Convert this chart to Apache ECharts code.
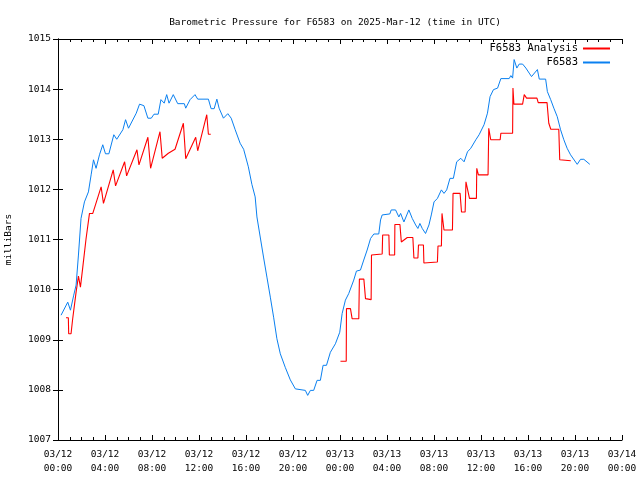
<!DOCTYPE html>
<html><head><meta charset="utf-8">
<script src="https://cdn.jsdelivr.net/npm/echarts@6/dist/echarts.min.js"></script>
<style>html,body{margin:0;padding:0;background:#fff}#c{width:640px;height:480px}</style>
</head><body><div id="c"></div>
<script>
// hours since 2025-03-12 00:00 UTC
const blueHours = [0.26,0.83,1.06,1.34,1.54,1.74,1.96,2.25,2.59,2.82,3.02,3.24,3.53,3.81,4.04,4.33,4.75,5.0,5.52,5.75,6.0,6.66,6.94,7.31,7.65,7.94,8.17,8.53,8.76,9.04,9.25,9.45,9.81,10.19,10.75,10.87,11.24,11.66,11.89,12.8,13.03,13.29,13.52,13.71,14.08,14.45,14.74,15.08,15.5,15.8,16.2,16.5,16.78,16.93,17.21,17.49,17.78,18.07,18.35,18.63,18.92,19.34,19.77,20.2,20.34,21.05,21.25,21.48,21.76,22.05,22.33,22.56,22.85,23.18,23.61,23.98,24.18,24.46,24.74,25.17,25.4,25.74,26.02,26.31,26.6,26.88,27.3,27.45,27.59,28.24,28.36,28.73,29.01,29.16,29.44,29.86,30.15,30.44,30.63,30.8,31.0,31.28,31.57,31.77,32.0,32.29,32.63,32.85,33.08,33.36,33.65,33.93,34.28,34.56,34.85,35.13,35.56,35.84,36.26,36.55,36.77,37.06,37.41,37.69,38.4,38.54,38.69,38.82,39.05,39.25,39.54,39.82,40.1,40.3,40.8,40.96,41.5,41.65,41.93,42.2,42.49,42.77,43.05,43.33,43.62,44.19,44.47,44.75,45.26];
const blueValues = [1009.49,1009.75,1009.59,1009.89,1010.09,1010.69,1011.42,1011.75,1011.95,1012.29,1012.59,1012.42,1012.69,1012.89,1012.71,1012.71,1013.09,1013.0,1013.19,1013.39,1013.22,1013.52,1013.70,1013.67,1013.42,1013.42,1013.5,1013.5,1013.79,1013.72,1013.89,1013.72,1013.89,1013.71,1013.71,1013.62,1013.79,1013.89,1013.8,1013.8,1013.61,1013.61,1013.8,1013.62,1013.42,1013.51,1013.42,1013.19,1012.92,1012.8,1012.45,1012.1,1011.85,1011.45,1011.05,1010.65,1010.25,1009.85,1009.45,1009.02,1008.72,1008.45,1008.2,1008.02,1007.99,1007.99,1007.89,1007.99,1007.99,1008.19,1008.19,1008.49,1008.49,1008.75,1008.92,1009.15,1009.52,1009.79,1009.92,1010.19,1010.37,1010.39,1010.59,1010.79,1011.02,1011.11,1011.11,1011.39,1011.49,1011.51,1011.59,1011.59,1011.45,1011.52,1011.35,1011.59,1011.42,1011.29,1011.22,1011.32,1011.22,1011.12,1011.29,1011.49,1011.75,1011.82,1011.99,1011.92,1011.99,1012.22,1012.22,1012.55,1012.62,1012.55,1012.75,1012.82,1012.99,1013.09,1013.29,1013.52,1013.85,1013.99,1014.02,1014.21,1014.21,1014.27,1014.22,1014.59,1014.42,1014.5,1014.5,1014.42,1014.32,1014.25,1014.39,1014.2,1014.2,1013.95,1013.79,1013.62,1013.45,1013.19,1012.99,1012.82,1012.69,1012.5,1012.6,1012.6,1012.5];

const redHours1 = [0.68,0.88,0.91,1.11,1.25,1.54,1.74,1.91,2.11,2.39,2.68,2.96,3.67,3.87,4.7,4.9,5.67,5.84,6.72,6.89,7.65,7.88,8.68,8.87,9.39,9.96,10.67,10.87,11.72,11.89,12.66,12.8,13.0];
const redValues1 = [1009.44,1009.44,1009.12,1009.12,1009.42,1009.95,1010.27,1010.05,1010.45,1011.02,1011.52,1011.52,1012.05,1011.72,1012.39,1012.07,1012.55,1012.27,1012.79,1012.49,1013.04,1012.42,1013.15,1012.62,1012.72,1012.8,1013.32,1012.61,1013.04,1012.77,1013.49,1013.1,1013.1];
const redHours2 = [24.04,24.53,24.55,24.89,25.03,25.6,25.65,26.03,26.17,26.65,26.68,27.59,27.63,28.16,28.2,28.65,28.67,29.1,29.22,29.5,29.73,30.2,30.29,30.63,30.68,31.1,31.14,32.29,32.34,32.63,32.68,32.85,33.57,33.62,34.22,34.34,34.65,34.72,34.85,35.02,35.61,35.64,35.78,36.6,36.66,36.83,37.63,37.69,38.69,38.72,38.8,39.54,39.68,39.88,40.76,40.87,41.62,41.77,41.94,42.62,42.7,43.64];
const redValues2 = [1008.57,1008.57,1009.62,1009.62,1009.42,1009.42,1010.21,1010.21,1009.82,1009.8,1010.69,1010.71,1011.09,1011.09,1010.69,1010.69,1011.3,1011.3,1010.95,1011.0,1011.04,1011.04,1010.63,1010.63,1010.89,1010.89,1010.53,1010.55,1010.87,1010.87,1011.52,1011.19,1011.19,1011.92,1011.92,1011.55,1011.55,1012.15,1012.15,1011.82,1011.82,1012.42,1012.29,1012.29,1013.22,1012.99,1012.99,1013.12,1013.12,1014.02,1013.7,1013.7,1013.89,1013.82,1013.82,1013.73,1013.73,1013.32,1013.2,1013.2,1012.59,1012.57];

const titleText = 'Barometric Pressure for F6583 on 2025-Mar-12 (time in UTC)';
const dayLabels = ['03/12','03/13','03/14'];

const zip = (a,b) => a.map((v,i)=>[v,b[i]]);
const redData = zip(redHours1, redValues1).concat([[18,'-']]).concat(zip(redHours2, redValues2));
const blueData = zip(blueHours, blueValues);

const FONT = 'DejaVu Sans Mono';
const txt = {fontFamily: FONT, fontSize: 9.5, color: '#000'};
function xLabel(v){
  const d = Math.floor(v/24), h = v - d*24;
  return dayLabels[d] + '\n' + String(h).padStart(2,'0') + ':00';
}
const axLine = {show:true, lineStyle:{color:'#000', width:1}};
const xBase = {type:'value', min:0, max:48, interval:4, axisLine:axLine,
  axisTick:{show:true, inside:true, length:5, lineStyle:{color:'#000'}},
  minorTick:{show:true, splitNumber:4, length:3, lineStyle:{color:'#000'}},
  splitLine:{show:false}};
const yBase = {type:'value', min:1007, max:1015, interval:1, axisLine:axLine,
  axisTick:{show:true, inside:true, length:5, lineStyle:{color:'#000'}},
  splitLine:{show:false}};

const chart = echarts.init(document.getElementById('c'), null, {renderer:'canvas'});
chart.setOption({
  animation:false,
  backgroundColor:'#fff',
  title:{text:titleText, left:330, textAlign:'center', top:13, textStyle:Object.assign({fontWeight:'normal'}, txt)},
  grid:{left:58, right:18, top:39, bottom:40, containLabel:false, outerBoundsMode:'none'},
  legend:[
    {data:['F6583 Analysis'], right:30, top:43, align:'right', itemWidth:27, itemHeight:2, icon:'rect', itemGap:6, textStyle:Object.assign({}, txt, {fontSize:10.5}), padding:0},
    {data:['F6583'], right:30, top:57, align:'right', itemWidth:27, itemHeight:2, icon:'rect', itemGap:6, textStyle:Object.assign({}, txt, {fontSize:10.5}), padding:0}
  ],
  xAxis:[
    Object.assign({position:'bottom', axisLabel:Object.assign({formatter:xLabel, margin:8, lineHeight:14}, txt)}, xBase),
    Object.assign({position:'top', axisLabel:{show:false}}, xBase)
  ],
  yAxis:[
    Object.assign({position:'left', name:'milliBars', nameLocation:'middle', nameGap:44, nameRotate:90,
      nameTextStyle:txt, axisLabel:Object.assign({margin:7, formatter:v => String(v)}, txt)}, yBase),
    Object.assign({position:'right', axisLabel:{show:false}}, yBase)
  ],
  series:[
    {name:'F6583 Analysis', type:'line', data:redData, showSymbol:false, connectNulls:false,
      color:'#ff0000', lineStyle:{width:1.1, color:'#ff0000'}, itemStyle:{color:'#ff0000'}},
    {name:'F6583', type:'line', data:blueData, showSymbol:false,
      color:'#0a80f0', lineStyle:{width:1, color:'#0a80f0'}, itemStyle:{color:'#0a80f0'}}
  ]
});
</script></body></html>
